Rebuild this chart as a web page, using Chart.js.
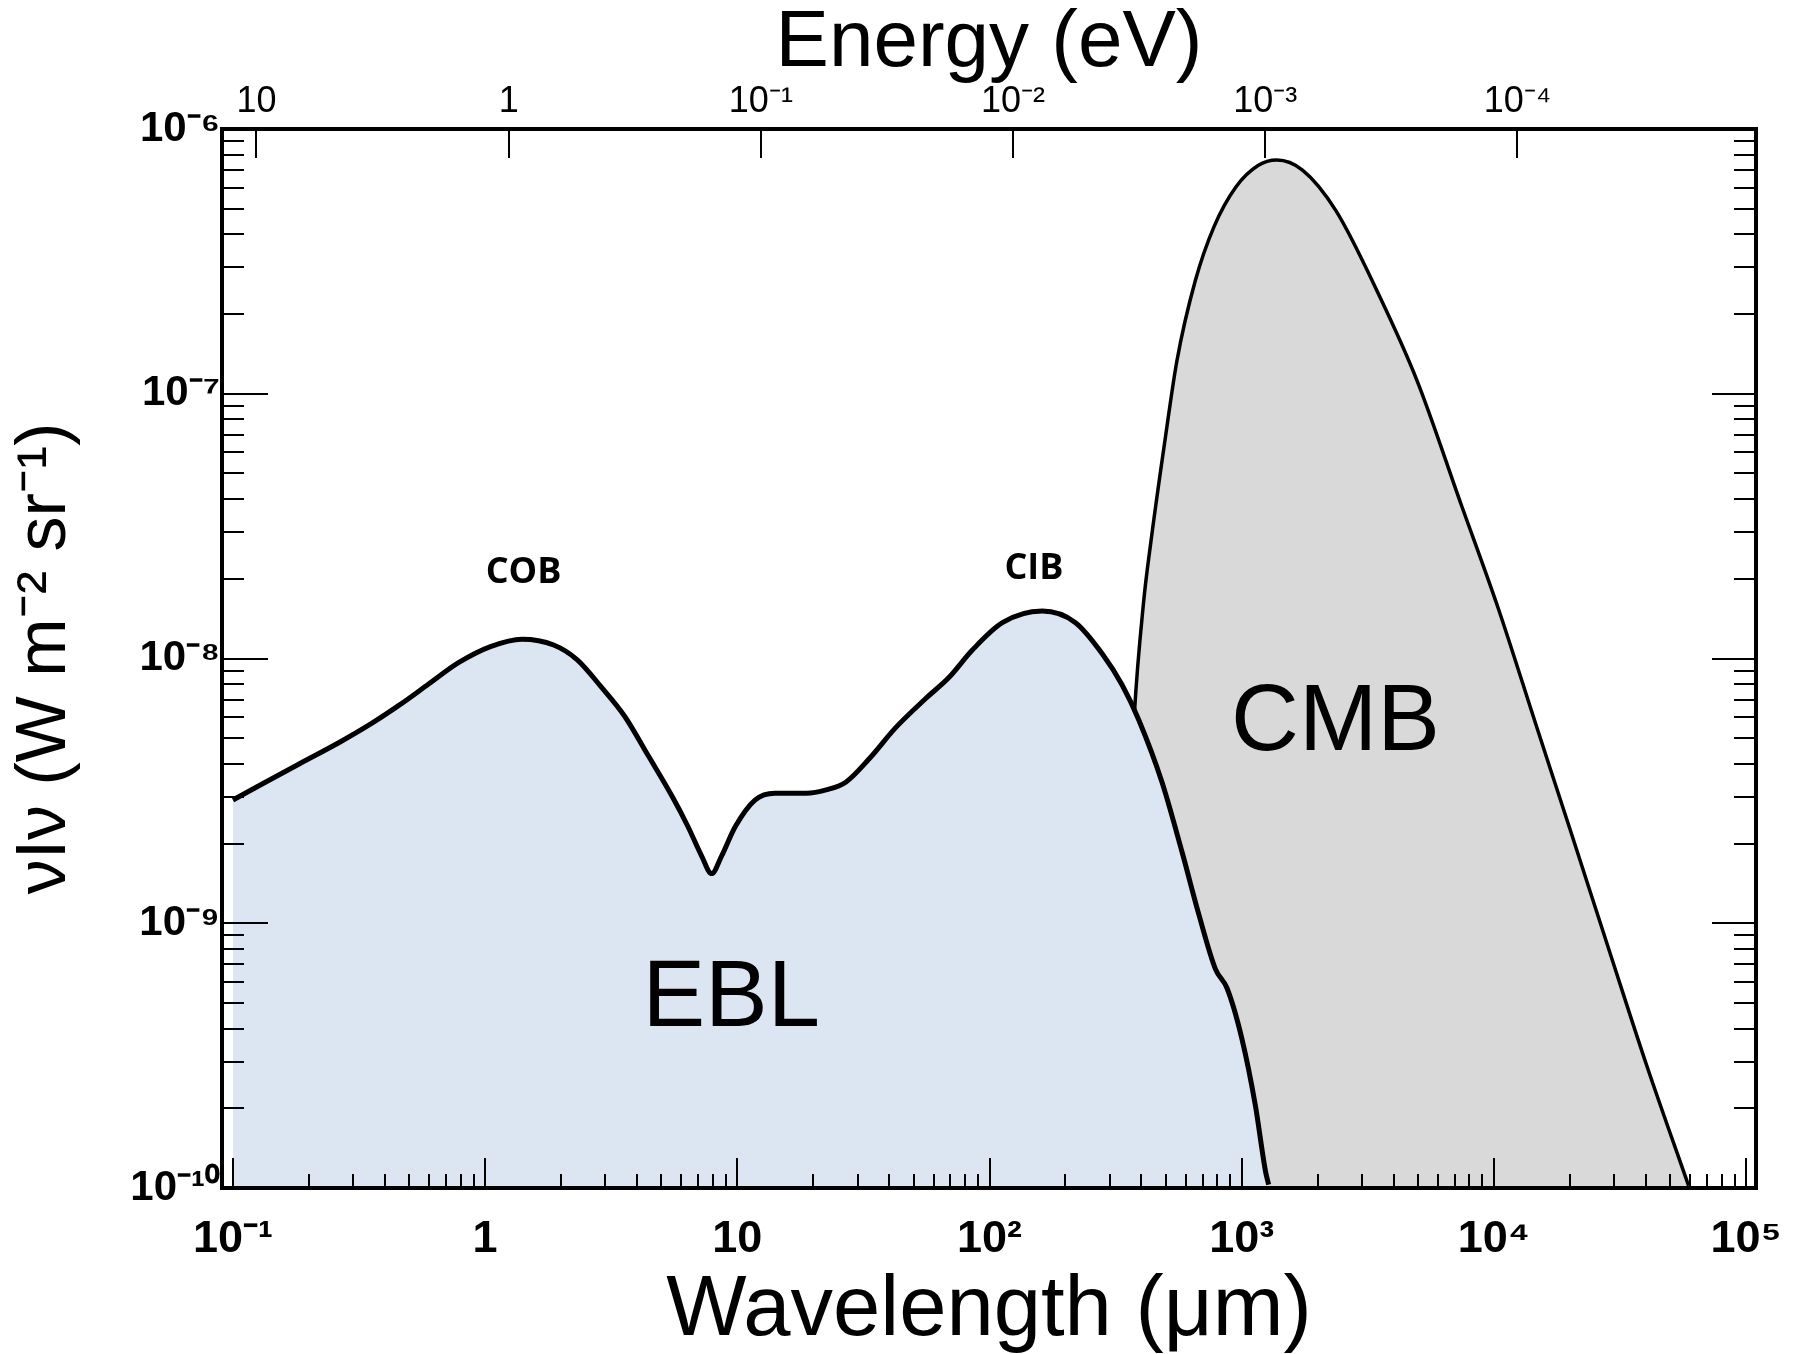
<!DOCTYPE html>
<html>
<head>
<meta charset="utf-8">
<script src="https://cdn.jsdelivr.net/npm/chart.js@4.4.1/dist/chart.umd.min.js"></script>
<style>
  html, body { margin: 0; padding: 0; background: #ffffff; }
  canvas { display: block; }
</style>
</head>
<body>
<canvas id="spectrum" width="1807" height="1354"></canvas>
<script>
// Extragalactic background light (EBL) and cosmic microwave background (CMB):
// νIν in W m^-2 sr^-1 against wavelength in μm.

const wavelengthEBL = [
  0.100, 0.130, 0.186, 0.267, 0.356, 0.458, 0.590, 0.787, 1.05, 1.40,
  1.87, 2.32, 2.88, 3.58, 4.45, 5.52, 6.37, 7.23, 7.91, 8.65,
  9.82, 11.75, 14.09, 18.79, 22.49, 26.92, 33.34, 42.46, 55.85, 69.18,
  85.51, 112.5, 161.8, 219.3, 279.9, 335.7, 390.8, 483.1, 580.8, 676.1,
  787.0, 874.9, 1002, 1132, 1242, 1279
];
const intensityEBL = [
  2.92e-9, 3.35e-9, 4.03e-9, 4.85e-9, 5.70e-9, 6.68e-9, 7.94e-9, 9.66e-9, 1.109e-8, 1.183e-8,
  1.125e-8, 9.89e-9, 7.83e-9, 6.04e-9, 4.27e-9, 3.01e-9, 2.32e-9, 1.79e-9, 1.54e-9, 1.79e-9,
  2.32e-9, 2.92e-9, 3.10e-9, 3.10e-9, 3.19e-9, 3.41e-9, 4.18e-9, 5.48e-9, 7.06e-9, 8.49e-9,
  1.076e-8, 1.365e-8, 1.510e-8, 1.365e-8, 1.042e-8, 7.94e-9, 5.86e-9, 3.41e-9, 1.85e-9, 1.08e-9,
  6.71e-10, 5.68e-10, 3.66e-10, 2.06e-10, 1.16e-10, 1.03e-10
];

const wavelengthCMB = [
  331.1, 346.7, 359.7, 375.0, 408.3, 436.5, 500.0, 553.4, 654.6, 776.2,
  948.4, 1161, 1377, 1742, 2360, 3540, 4966, 7430, 10420, 14590,
  20460, 28640, 40180, 59160
];
const intensityCMB = [
  1.0e-10, 6.3e-10, 2.51e-9, 6.07e-9, 1.633e-8, 2.76e-8, 7.00e-8, 1.33e-7, 2.67e-7, 4.27e-7,
  6.04e-7, 7.28e-7, 7.64e-7, 7.00e-7, 4.93e-7, 2.31e-7, 1.117e-7, 3.80e-8, 1.542e-8, 5.73e-9,
  2.13e-9, 7.91e-10, 2.94e-10, 1.02e-10
];

const wavelengthTicks = [0.1, 1, 10, 100, 1000, 1e4, 1e5];
const wavelengthTickLabels = ['10⁻¹', '1', '10', '10²', '10³', '10⁴', '10⁵'];
const energyTicks = [10, 1, 0.1, 0.01, 0.001, 0.0001];
const energyTickLabels = ['10', '1', '10⁻¹', '10⁻²', '10⁻³', '10⁻⁴'];
const intensityTicks = [1e-6, 1e-7, 1e-8, 1e-9, 1e-10];
const intensityTickLabels = ['10⁻⁶', '10⁻⁷', '10⁻⁸', '10⁻⁹', '10⁻¹⁰'];

// Region names, anchored at (wavelength μm, νIν) centres
const regionLabels = [
  { text: 'COB', lambda: 1.42, value: 2.10e-8, font: 'bold 36px "Open Sans", "Liberation Sans", sans-serif' },
  { text: 'CIB', lambda: 150, value: 2.18e-8, font: 'bold 36px "Open Sans", "Liberation Sans", sans-serif' },
  { text: 'CMB', lambda: 2355, value: 5.66e-9, font: '94px "Liberation Sans", Arial, sans-serif' },
  { text: 'EBL', lambda: 9.46, value: 5.14e-10, font: '94px "Liberation Sans", Arial, sans-serif' }
];

const HC_EV_UM = 1.23984;          // photon energy (eV) = HC / wavelength (μm)
const LAMBDA_MIN = 0.0905;
const LAMBDA_MAX = 1.095e5;
const SANS = '"Liberation Sans", Arial, sans-serif';

function labelFor(values, labels, v) {
  const i = values.findIndex(t => Math.abs(Math.log10(t) - Math.log10(v)) < 1e-6);
  return i >= 0 ? labels[i] : '';
}
function pairs(xs, ys) {
  return xs.map((x, i) => ({ x, y: ys[i] }));
}

// Frame, inward tick marks and region names, drawn above the filled areas
const frameAndLabels = {
  id: 'frameAndLabels',
  afterDatasetsDraw(chart) {
    const { ctx, chartArea: a, scales } = chart;
    const xs = scales.x, xe = scales.xE, ys = scales.y;
    ctx.save();
    ctx.strokeStyle = '#000';
    ctx.lineWidth = 2;
    ctx.beginPath();
    for (let d = -2; d <= 5; d++) {
      for (let m = 1; m <= 9; m++) {
        const v = m * Math.pow(10, d);
        if (v < xs.min || v > xs.max) continue;
        const px = Math.round(xs.getPixelForValue(v));
        const len = m === 1 ? 30 : 14;
        ctx.moveTo(px, a.bottom);
        ctx.lineTo(px, a.bottom - len);
      }
    }
    energyTicks.forEach(e => {
      const px = Math.round(xe.getPixelForValue(e));
      ctx.moveTo(px, a.top);
      ctx.lineTo(px, a.top + 29);
    });
    for (let d = -10; d <= -6; d++) {
      for (let m = 1; m <= 9; m++) {
        const v = m * Math.pow(10, d);
        if (v < ys.min * 0.999 || v > ys.max * 1.001) continue;
        const py = Math.round(ys.getPixelForValue(v));
        const lenL = m === 1 ? 46 : 22;
        const lenR = m === 1 ? 44 : 22;
        ctx.moveTo(a.left, py);
        ctx.lineTo(a.left + lenL, py);
        ctx.moveTo(a.right, py);
        ctx.lineTo(a.right - lenR, py);
      }
    }
    ctx.stroke();

    ctx.lineWidth = 4;
    ctx.strokeRect(a.left, a.top, a.right - a.left, a.bottom - a.top);

    ctx.fillStyle = '#000';
    ctx.textAlign = 'center';
    ctx.textBaseline = 'middle';
    regionLabels.forEach(l => {
      ctx.font = l.font;
      ctx.fillText(l.text, xs.getPixelForValue(l.lambda), ys.getPixelForValue(l.value));
    });
    ctx.restore();
  }
};

new Chart(document.getElementById('spectrum'), {
  type: 'line',
  data: {
    datasets: [
      {
        label: 'EBL',
        data: pairs(wavelengthEBL, intensityEBL),
        xAxisID: 'x',
        yAxisID: 'y',
        order: 0,
        borderColor: '#000000',
        borderWidth: 5,
        backgroundColor: '#dce6f2',
        fill: 'start',
        pointRadius: 0,
        cubicInterpolationMode: 'monotone'
      },
      {
        label: 'CMB',
        data: pairs(wavelengthCMB, intensityCMB),
        xAxisID: 'x',
        yAxisID: 'y',
        order: 1,
        borderColor: '#000000',
        borderWidth: 3.5,
        backgroundColor: '#d9d9d9',
        fill: 'start',
        pointRadius: 0,
        cubicInterpolationMode: 'monotone'
      }
    ]
  },
  options: {
    responsive: false,
    devicePixelRatio: 1,
    animation: false,
    layout: { padding: 0 },
    plugins: {
      legend: { display: false },
      tooltip: { enabled: false }
    },
    scales: {
      x: {
        type: 'logarithmic',
        position: 'bottom',
        min: LAMBDA_MIN,
        max: LAMBDA_MAX,
        grid: { display: false, drawTicks: false },
        border: { display: false },
        afterBuildTicks: s => { s.ticks = wavelengthTicks.map(v => ({ value: v, major: true })); },
        afterFit: s => { s.height = 166; },
        ticks: {
          autoSkip: false, maxRotation: 0, minRotation: 0, padding: 25,
          color: '#000',
          font: { family: SANS, size: 45, weight: 'bold' },
          callback: v => labelFor(wavelengthTicks, wavelengthTickLabels, v)
        },
        title: {
          display: true, text: 'Wavelength (μm)', color: '#000',
          font: { family: SANS, size: 85, lineHeight: 1.0 }, padding: { top: 0, bottom: 0 }
        }
      },
      xE: {
        type: 'logarithmic',
        position: 'top',
        reverse: true,
        min: HC_EV_UM / LAMBDA_MAX,
        max: HC_EV_UM / LAMBDA_MIN,
        grid: { display: false, drawTicks: false },
        border: { display: false },
        afterBuildTicks: s => { s.ticks = energyTicks.map(v => ({ value: v, major: true })); },
        afterFit: s => { s.height = 129; },
        ticks: {
          autoSkip: false, maxRotation: 0, minRotation: 0, padding: 5,
          color: '#000',
          font: { family: SANS, size: 36 },
          callback: v => labelFor(energyTicks, energyTickLabels, v)
        },
        title: {
          display: true, text: 'Energy (eV)', color: '#000',
          font: { family: SANS, size: 80, lineHeight: 1.1 }, padding: { top: 0, bottom: 0 }
        }
      },
      y: {
        type: 'logarithmic',
        position: 'left',
        min: 1e-10,
        max: 1e-6,
        grid: { display: false, drawTicks: false },
        border: { display: false },
        afterBuildTicks: s => { s.ticks = intensityTicks.map(v => ({ value: v, major: true })); },
        afterFit: s => { s.width = 222; },
        ticks: {
          autoSkip: false, padding: 2,
          color: '#000',
          font: { family: SANS, size: 42, weight: 'bold' },
          callback: v => labelFor(intensityTicks, intensityTickLabels, v)
        },
        title: {
          display: true, text: 'νIν (W m⁻² sr⁻¹)', color: '#000',
          font: { family: SANS, size: 70 }, padding: { top: 4, bottom: 0 }
        }
      },
      yR: {
        type: 'logarithmic',
        position: 'right',
        min: 1e-10,
        max: 1e-6,
        grid: { display: false, drawTicks: false },
        border: { display: false },
        afterFit: s => { s.width = 49; },
        ticks: { display: false }
      }
    }
  },
  plugins: [frameAndLabels]
});
</script>
</body>
</html>
